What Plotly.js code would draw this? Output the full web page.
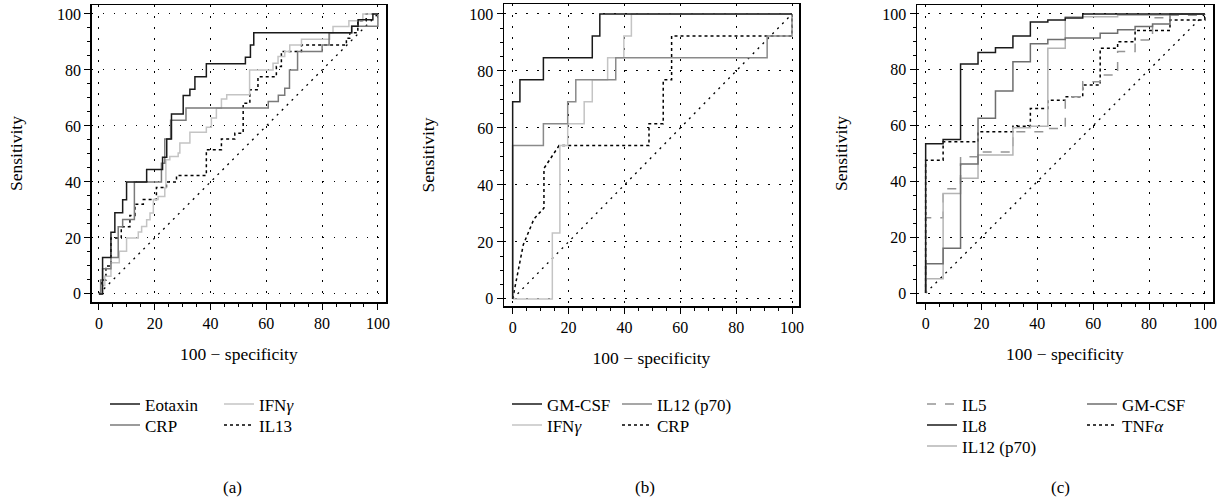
<!DOCTYPE html>
<html>
<head>
<meta charset="utf-8">
<script src="https://cdn.plot.ly/plotly-3.0.1.min.js"></script>
<style>html,body{margin:0;padding:0;background:#fff}#chart{width:1227px;height:502px}</style>
</head>
<body>
<div id="chart"></div>
<script>
// ---------- Panel (a) ----------
const eotaxinX = [0,1.3,4.3,5.7,8.5,9.9,17.1,22.8,24.3,26,30.2,32.6,34.4,38.5,52.5,54.3,55.5,90.6,92.9,98.2,100];
const eotaxinY = [0,13,22,29,33.6,40,44.4,48.8,55.3,64.3,70.9,73.1,77.6,82.2,84.5,88.9,93.3,95.6,97.9,100,100];
const crpAX = [0,0.6,1.3,4.3,6.9,8.5,12.7,22.4,23.6,25.7,31.2,60.7,64.3,66.6,68.3,71.2,80,82.5,90.6,100];
const crpAY = [0,5,9,13,24,26.6,40,46.7,55.3,62,66.4,68.7,71,73.5,80,86.6,88.9,93.3,95.6,100];
const ifnAX = [0,0.8,2.1,4.3,7.3,9.9,14.1,15.3,17.1,18.3,19.5,21.2,23.6,24,25.4,28.4,29,32.6,38.5,40.3,42.1,43.9,45.8,54,62.4,64.2,66.6,68.4,72.6,82.7,83.9,89.6,94.6,100];
const ifnAY = [0,3,6.3,11.1,15.2,20,22.1,24.1,26.5,28.9,33.7,34.8,37.8,47.9,49.1,50.3,53.9,57.7,59.5,62.8,66.3,69.6,71.1,80,82.4,84.8,86.6,88.9,91,93.3,95.5,97.6,100,100];
const il13X = [0,1,2.5,4.3,8,11.1,12.9,15.9,20.6,24.2,27.8,38.5,43.9,48.7,51.7,54.1,57,63.6,65.4,72.6,88.7,89.9,92.8,95.8,100];
const il13Y = [0,5,10,20,24,28,32,33.7,38,40,42.3,51.5,55.3,57.4,68.1,72.9,77.6,81.2,86.6,88.9,91.3,93.3,97.6,100,100];

// ---------- Panel (b) ----------
const gmBX = [0,0,2.6,11,28.5,31.2,100];
const gmBY = [0,69.2,76.9,84.6,92.3,100,100];
const il12BX = [0,0,11,19.7,22.6,36.9,91.1,100];
const il12BY = [0,53.8,61.5,69.2,76.9,84.6,92.3,100];
const ifnBX = [0,14.2,16.9,19.7,25.6,28.5,34,39.8,42.5,100];
const ifnBY = [0,23.1,53.8,61.5,69.2,76.9,84.6,92.3,100,100];
const crpBX = [0,3.8,7.6,11.2,11.2,16.6,48.8,48.8,53.9,53.9,56.9,56.9,100,100];
const crpBY = [0,19,28,31.9,45.8,53.8,53.8,61.5,61.5,76.9,76.9,92.3,92.3,100];

// ---------- Panel (c) ----------
const il5X = [0,0,6.25,12.5,18.75,31.25,43.75,50,56.25,62.5,68.75,75,81.25,87.5,100];
const il5Y = [0,27,37.4,48.8,50.5,57.8,59,70.3,75.7,78.1,86.5,90.7,98.6,99.5,100];
const il8X = [0,0,6.25,12.5,18.75,25,31.25,37.5,43.75,50,56.25,100];
const il8Y = [0,53.5,55,82.1,86.2,87.9,92.1,97.1,97.8,98.5,100,100];
const il12CX = [0,0,6.25,12.5,18.75,31.25,37.5,43.75,50,68.75,87.5,100];
const il12CY = [0,5.1,35.7,41.1,49.5,59.2,59.8,87.7,99,99.5,100,100];
const gmCX = [0,0,6.25,12.5,18.75,25,31.25,37.5,43.75,50,62.5,68.75,75,81.25,87.5,100];
const gmCY = [0,10.5,16.1,46.2,62.6,72.4,82.9,89.3,90.8,91.4,93.1,94.3,95.5,96.4,100,100];
const tnfX = [0,0,6.25,18.75,31.25,37.5,43.75,50,56.25,62.5,68.75,75,87.5,100];
const tnfY = [0,47.6,54.2,57.8,59.8,66.1,69.1,70.3,74.5,87.7,90,94.1,97.8,100];

// reference diagonal and labels
const diagX = [0,100];
const diagY = [0,100];
const panelLabels = ['(a)','(b)','(c)'];
const xTitle = '100 \u2212 specificity';
const yTitle = 'Sensitivity';

const FONT = 'Liberation Serif, Times New Roman, serif';
const BLACK = '#1a1a1a', GRAY = '#7a7a7a', LIGHT = '#c4c4c4';
const W = 1227, H = 502;
const LEG_FS = 17;

function tr(x, y, name, color, dash, shape, xa, ya, legend) {
  return {x, y, name, type:'scatter', mode:'lines', xaxis:xa, yaxis:ya,
    line:{color, width:1.5, dash, shape}, legend, hoverinfo:'skip'};
}
function diag(xa, ya) {
  return {x:diagX, y:diagY, type:'scatter', mode:'lines', xaxis:xa, yaxis:ya,
    line:{color:'#000', width:1.3, dash:'2px,5px'}, showlegend:false, hoverinfo:'skip'};
}

const data = [
  diag('x','y'),
  tr(il13X, il13Y, 'IL13', '#000', 'dot', 'hv', 'x','y','legend4'),
  tr(ifnAX, ifnAY, 'IFN<i>\u03b3</i>', LIGHT, 'solid', 'hv', 'x','y','legend3'),
  tr(crpAX, crpAY, 'CRP', GRAY, 'solid', 'hv', 'x','y','legend2'),
  tr(eotaxinX, eotaxinY, 'Eotaxin', BLACK, 'solid', 'hv', 'x','y','legend'),

  diag('x2','y2'),
  tr(crpBX, crpBY, 'CRP', '#000', 'dot', 'linear', 'x2','y2','legend8'),
  tr(ifnBX, ifnBY, 'IFN<i>\u03b3</i>', LIGHT, 'solid', 'hv', 'x2','y2','legend7'),
  tr(il12BX, il12BY, 'IL12 (p70)', '#8a8a8a', 'solid', 'hv', 'x2','y2','legend6'),
  tr(gmBX, gmBY, 'GM-CSF', BLACK, 'solid', 'hv', 'x2','y2','legend5'),

  diag('x3','y3'),
  tr(tnfX, tnfY, 'TNF<i>\u03b1</i>', '#000', 'dot', 'hv', 'x3','y3','legend12'),
  tr(il5X, il5Y, 'IL5', '#959595', 'dash', 'hv', 'x3','y3','legend9'),
  tr(il12CX, il12CY, 'IL12 (p70)', '#b4b4b4', 'solid', 'hv', 'x3','y3','legend11'),
  tr(gmCX, gmCY, 'GM-CSF', '#6e6e6e', 'solid', 'hv', 'x3','y3','legend13'),
  tr(il8X, il8Y, 'IL8', BLACK, 'solid', 'hv', 'x3','y3','legend10')
];

function common() {
  return {dtick:20, tick0:0,
    ticks:'outside', ticklen:6, tickwidth:1, tickcolor:'#000',
    minor:{ticks:'outside', dtick:5, tick0:0, ticklen:3, tickwidth:1, tickcolor:'#000', showgrid:false},
    showline:true, linecolor:'#000', linewidth:1.5, mirror:true,
    showgrid:true, gridcolor:'#000', gridwidth:1, griddash:'1.5px,9.5px',
    zeroline:false, fixedrange:true,
    tickfont:{family:FONT, size:16, color:'#000'}};
}
function xa(l, r, range, anchor) {
  return Object.assign(common(), {domain:[l/W, r/W], range, anchor,
    title:{text:xTitle, font:{family:FONT, size:17.5, color:'#000'}, standoff:17}});
}
function ya(t, b, range, anchor) {
  return Object.assign(common(), {domain:[1-b/H, 1-t/H], range, anchor,
    title:{text:yTitle, font:{family:FONT, size:17.5, color:'#000'}, standoff:30}});
}
// legend box placed so that its single row is centred at rowY (px), text starting at textX (px)
function lg(textX, rowY) {
  const h = LEG_FS * 1.3 + 3;
  const top = rowY - (h / 2 + 5);
  return {x:(textX - 40)/W, y:1 - top/H, xanchor:'left', yanchor:'top', orientation:'v',
    bgcolor:'rgba(0,0,0,0)', borderwidth:0, tracegroupgap:0,
    font:{family:FONT, size:LEG_FS, color:'#000'}};
}

const R1 = 404, R2 = 425, R3 = 446;
const layout = {
  width:W, height:H, margin:{l:0, r:0, t:0, b:0},
  paper_bgcolor:'#fff', plot_bgcolor:'#fff', showlegend:true,
  xaxis: xa(91.7, 386, [-2.6, 102.9], 'y'),
  yaxis: ya(5, 302, [-2.9, 103.2], 'x'),
  xaxis2: xa(504, 799, [-3.1, 102.5], 'y2'),
  yaxis2: ya(4, 306, [-2.5, 103.5], 'x2'),
  xaxis3: xa(917, 1213, [-3.1, 102.9], 'y3'),
  yaxis3: ya(5, 302, [-3.2, 103.2], 'x3'),
  legend: lg(145, R1),
  legend2: lg(145, R2),
  legend3: lg(259, R1),
  legend4: lg(259, R2),
  legend5: lg(547, R1),
  legend6: lg(657, R1),
  legend7: lg(547, R2),
  legend8: lg(657, R2),
  legend9: lg(962, R1),
  legend10: lg(962, R2),
  legend11: lg(962, R3),
  legend12: lg(1122, R2),
  legend13: lg(1122, R1),
  annotations: [
    {text:panelLabels[0], x:232/W, y:1-487/H},
    {text:panelLabels[1], x:645/W, y:1-487/H},
    {text:panelLabels[2], x:1060/W, y:1-487/H}
  ].map(a => Object.assign(a, {xref:'paper', yref:'paper', showarrow:false,
      xanchor:'center', yanchor:'middle', font:{family:FONT, size:17, color:'#000'}}))
};

Plotly.newPlot('chart', data, layout, {staticPlot:true, displayModeBar:false});
</script>
</body>
</html>
